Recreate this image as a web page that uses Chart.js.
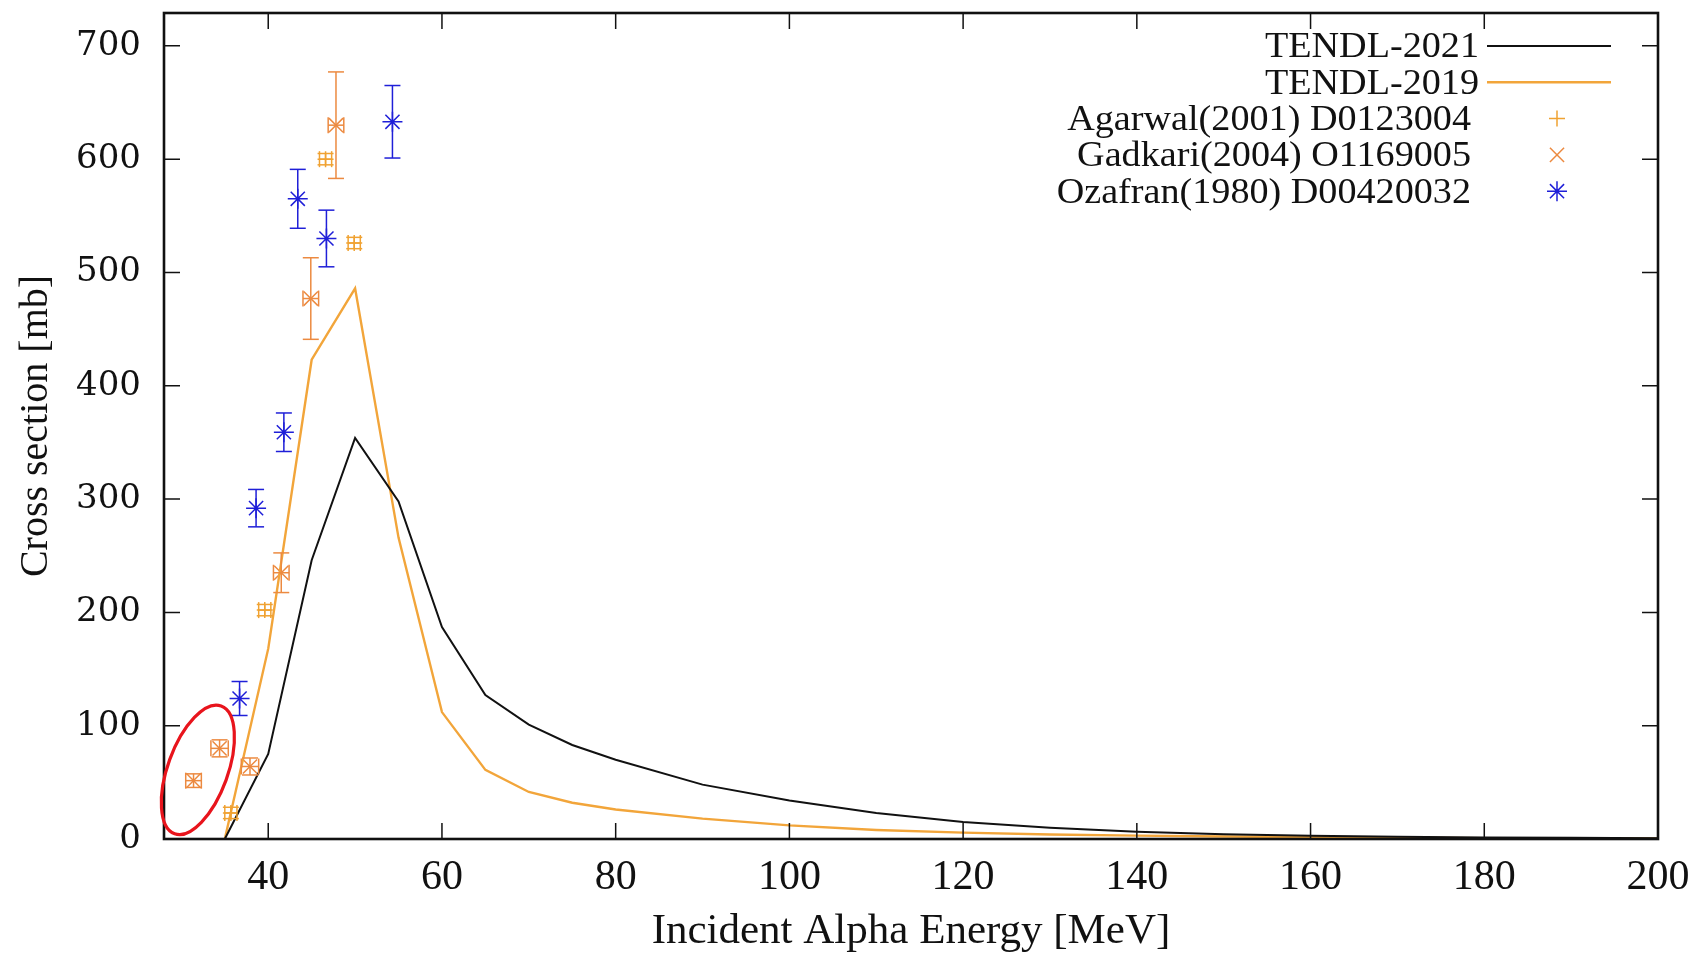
<!DOCTYPE html>
<html>
<head>
<meta charset="utf-8">
<script src="https://cdn.jsdelivr.net/npm/chart.js@4.4.0/dist/chart.umd.min.js"></script>
<style>
  html, body { margin: 0; padding: 0; background: #fff; }
  canvas { display: block; }
</style>
</head>
<body>
<canvas id="xsChart" width="1698" height="955"></canvas>
<script>
// evaluated curves (same energy grid for both libraries)
const energyGrid = [35, 40, 45, 50, 55, 60, 65, 70, 75, 80, 90, 100, 110, 120, 130, 140, 150, 160, 170, 180, 190, 200];
const tendl2021 = [0, 75, 246, 354, 298, 187, 127, 101, 83, 70, 48, 34, 23, 15, 10, 6.5, 4.3, 2.9, 2.0, 1.4, 1.0, 0.7];
const tendl2019 = [0, 168, 423, 486, 266, 112, 61, 41.5, 32, 26, 18, 12, 8, 5.6, 4, 3, 2.2, 1.6, 1.1, 0.8, 0.6, 0.5];

// EXFOR data
const agarwalE = [35.7, 39.6, 46.6, 49.9];
const agarwalXS = [23, 202, 600, 526];
const agarwalDE = [0.7, 0.7, 0.7, 0.7];
const agarwalDXS = [5, 5, 5, 5];

const gadkariE = [31.4, 34.4, 37.9, 41.5, 44.9, 47.8];
const gadkariXS = [51.5, 80, 64, 235, 477, 630];
const gadkariDE = [0.9, 1.0, 1.0, 0.9, 0.9, 0.9];
const gadkariDXS = [6, 7.5, 7.5, 17.5, 36, 47];

const ozafranE = [36.7, 38.6, 41.8, 43.4, 46.7, 54.3];
const ozafranXS = [124, 292, 359, 565, 530, 633];
const ozafranDXS = [15, 16.5, 17, 26, 25, 32];

const xTicks = [40, 60, 80, 100, 120, 140, 160, 180, 200];
const yTicks = [0, 100, 200, 300, 400, 500, 600, 700];

const pts = (xs, ys) => xs.map((v, i) => ({ x: v, y: ys[i] }));

const serif = "'Liberation Serif', 'Times New Roman', serif";

// error bars with caps, drawn through the chart scales
const errorBars = {
  id: 'errorBars',
  afterDatasetsDraw(chart) {
    const { ctx, scales: { x, y } } = chart;
    const cap = 8;
    const seg = (a, b, c, d) => { ctx.beginPath(); ctx.moveTo(a, b); ctx.lineTo(c, d); ctx.stroke(); };
    chart.data.datasets.forEach(ds => {
      if (!ds.errY) return;
      ctx.save();
      ctx.strokeStyle = ds.borderColor;
      ctx.lineWidth = 1.5;
      ds.data.forEach((p, k) => {
        const px = x.getPixelForValue(p.x), py = y.getPixelForValue(p.y);
        const dy = ds.errY[k];
        if (dy) {
          const y0 = y.getPixelForValue(p.y - dy), y1 = y.getPixelForValue(p.y + dy);
          seg(px, y0, px, y1);
          seg(px - cap, y0, px + cap, y0);
          seg(px - cap, y1, px + cap, y1);
        }
        const dx = ds.errX ? ds.errX[k] : 0;
        if (dx) {
          const x0 = x.getPixelForValue(p.x - dx), x1 = x.getPixelForValue(p.x + dx);
          seg(x0, py, x1, py);
          seg(x0, py - cap, x0, py + cap);
          seg(x1, py - cap, x1, py + cap);
        }
      });
      ctx.restore();
    });
  }
};

// gnuplot-like frame with inward mirrored ticks, legend, and the red ellipse
const frame = {
  id: 'frame',
  afterDraw(chart) {
    const { ctx, chartArea: a, scales: { x, y } } = chart;
    const tl = 16;
    ctx.save();
    ctx.strokeStyle = '#111';
    ctx.lineWidth = 1.5;
    ctx.beginPath();
    xTicks.forEach(v => {
      const px = x.getPixelForValue(v);
      ctx.moveTo(px, a.bottom); ctx.lineTo(px, a.bottom - tl);
      ctx.moveTo(px, a.top); ctx.lineTo(px, a.top + tl);
    });
    yTicks.forEach(v => {
      const py = y.getPixelForValue(v);
      ctx.moveTo(a.left, py); ctx.lineTo(a.left + tl, py);
      ctx.moveTo(a.right, py); ctx.lineTo(a.right - tl, py);
    });
    ctx.stroke();
    ctx.lineWidth = 2.6;
    ctx.strokeRect(a.left, a.top, a.right - a.left, a.bottom - a.top);

    // legend
    const lineL = 1487, lineR = 1611, markX = 1557;
    ctx.font = '36px ' + serif;
    ctx.textAlign = 'right';
    ctx.textBaseline = 'middle';
    chart.data.datasets.forEach((ds, i) => {
      const ry = 48 + i * 36.3;
      const textRight = ds.showLine ? 1479 : 1471;
      ctx.fillStyle = '#111';
      ctx.save();
      ctx.translate(textRight, ry);
      ctx.scale(1.06, 1);
      ctx.fillText(ds.label, 0, 0);
      ctx.restore();
      ctx.strokeStyle = ds.borderColor;
      if (ds.showLine) {
        ctx.lineWidth = ds.borderWidth;
        ctx.beginPath(); ctx.moveTo(lineL, ry - 2); ctx.lineTo(lineR, ry - 2); ctx.stroke();
      } else {
        ctx.lineWidth = 1.5;
        Chart.helpers.drawPoint(ctx, { pointStyle: ds.pointStyle, radius: ds.pointRadius, rotation: 0, borderWidth: 1.5 }, markX, ry - 2);
      }
    });

    // red highlight ellipse around the two low-energy points
    const cx = x.getPixelForValue(31.9), cy = y.getPixelForValue(61);
    ctx.strokeStyle = '#e8141c';
    ctx.lineWidth = 3.2;
    ctx.beginPath();
    ctx.ellipse(cx, cy, 30, 68, 20 * Math.PI / 180, 0, Math.PI * 2);
    ctx.stroke();
    ctx.restore();
  }
};

const ctx = document.getElementById('xsChart');
const chart = new Chart(ctx, {
  type: 'scatter',
  data: {
    datasets: [
      { label: 'TENDL-2021', data: pts(energyGrid, tendl2021), showLine: true, borderColor: '#111111',
        borderWidth: 2, pointRadius: 0, tension: 0 },
      { label: 'TENDL-2019', data: pts(energyGrid, tendl2019), showLine: true, borderColor: '#f2a53a',
        borderWidth: 2.4, pointRadius: 0, tension: 0 },
      { label: 'Agarwal(2001) D0123004', data: pts(agarwalE, agarwalXS), showLine: false,
        borderColor: '#f0a232', backgroundColor: '#f0a232', pointStyle: 'cross', pointRadius: 8, pointBorderWidth: 1.5,
        errX: agarwalDE, errY: agarwalDXS },
      { label: 'Gadkari(2004) O1169005', data: pts(gadkariE, gadkariXS), showLine: false,
        borderColor: '#ec8a40', backgroundColor: '#ec8a40', pointStyle: 'crossRot', pointRadius: 10, pointBorderWidth: 1.5,
        errX: gadkariDE, errY: gadkariDXS },
      { label: 'Ozafran(1980) D00420032', data: pts(ozafranE, ozafranXS), showLine: false,
        borderColor: '#1f1fd8', backgroundColor: '#1f1fd8', pointStyle: 'star', pointRadius: 10, pointBorderWidth: 1.5,
        errY: ozafranDXS }
    ]
  },
  options: {
    responsive: false,
    devicePixelRatio: 1,
    animation: false,
    layout: { padding: { top: 13, right: 40, left: 0, bottom: 0 } },
    plugins: { legend: { display: false }, tooltip: { enabled: false } },
    scales: {
      x: {
        type: 'linear', min: 28, max: 200,
        afterBuildTicks: s => { s.ticks = xTicks.map(v => ({ value: v })); },
        afterFit: s => { s.height = 116; s.paddingLeft = 0; s.paddingRight = 0; },
        grid: { display: false }, border: { display: false },
        ticks: { font: { family: serif, size: 42 }, color: '#111', padding: 6, autoSkip: false, maxRotation: 0 },
        title: { display: true, text: 'Incident Alpha Energy [MeV]', font: { family: serif, size: 43 }, color: '#111',
          padding: { top: 0, bottom: -3 } }
      },
      y: {
        type: 'linear', min: 0, max: 729,
        afterBuildTicks: s => { s.ticks = yTicks.map(v => ({ value: v })); },
        afterFit: s => { s.width = 164; s.paddingTop = 0; s.paddingBottom = 0; },
        grid: { display: false }, border: { display: false },
        ticks: { font: { family: "'DejaVu Serif', serif", size: 34 }, color: '#111', padding: 15, autoSkip: false },
        title: { display: true, text: 'Cross section [mb]', font: { family: serif, size: 40 }, color: '#111',
          padding: { top: 12, bottom: 0 } }
      }
    }
  },
  plugins: [errorBars, frame]
});
</script>
</body>
</html>
